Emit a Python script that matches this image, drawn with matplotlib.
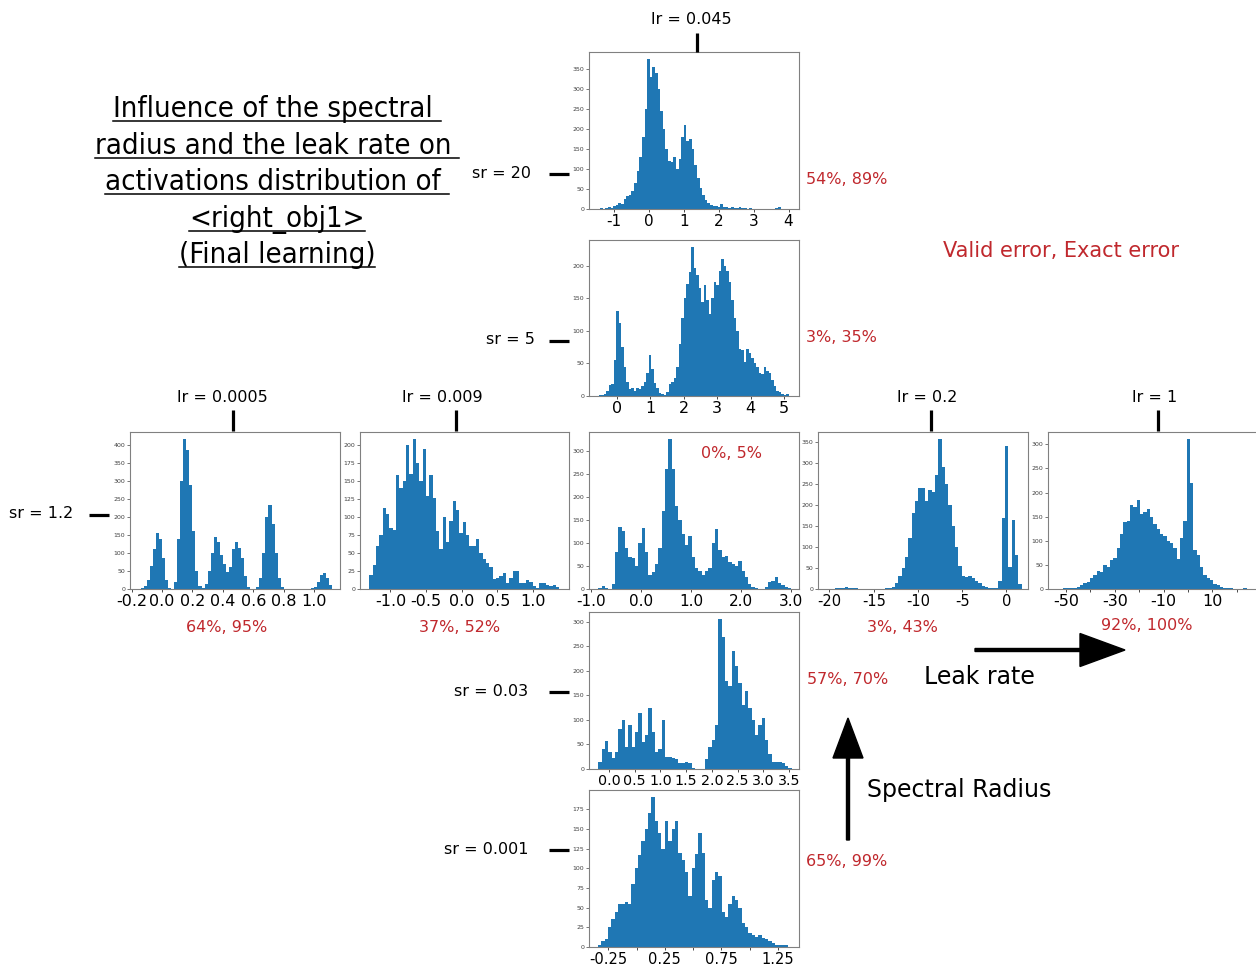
import matplotlib
matplotlib.use('Agg')
import matplotlib.pyplot as plt
import numpy as np
from matplotlib.patches import FancyArrow
from matplotlib.ticker import MultipleLocator

plt.rcParams['font.family'] = 'DejaVu Sans'
plt.rcParams['axes.unicode_minus'] = False

W, H = 1256, 966
BAR = '#1f77b4'
RED = '#c0282d'

# histogram counts: (first edge, last edge) + counts
sr20_range = (-1.4, 4.0)
sr20_counts = [3, 0, 2, 4, 2, 8, 10, 15, 12, 25, 32, 35, 45, 65, 95, 130, 180, 250,
               375, 330, 355, 340, 300, 245, 200, 150, 120, 118, 130, 100, 125, 180,
               210, 170, 175, 150, 110, 78, 52, 35, 22, 15, 10, 8, 8, 5, 12, 4, 6,
               3, 4, 3, 2, 4, 3, 2, 1, 2, 1, 1, 0, 1, 1, 0, 1, 1, 0, 2, 4, 1, 0, 1]

sr5_range = (-0.55, 5.15)
sr5_counts = [2, 1, 3, 8, 17, 18, 55, 130, 112, 75, 45, 22, 10, 12, 8, 12, 10, 15, 22, 35,
              63, 42, 20, 12, 4, 3, 2, 6, 18, 22, 28, 45, 80, 120, 150, 172, 190, 228, 196, 185,
              165, 145, 170, 148, 126, 150, 175, 170, 192, 210, 200, 192, 175, 148, 120, 100, 72, 70, 52, 72,
              66, 58, 50, 45, 35, 33, 45, 38, 36, 25, 15, 8, 6, 3, 2, 3]

lr0005_range = (-0.14, 1.12)
lr0005_counts = [2, 8, 25, 65, 110, 155, 140, 85, 25, 2, 0,
                 20, 140, 300, 415, 385, 290, 160, 50, 8, 2,
                 15, 50, 100, 145, 130, 95, 70, 48, 60, 110, 130, 115, 85, 35, 5, 0, 0,
                 5, 30, 100, 200, 232, 180, 100, 30, 5,
                 0, 0, 0, 0, 0, 0, 0, 0, 0,
                 2, 5, 20, 40, 45, 30, 10]

lr009_range = (-1.294, 1.369)
lr009_counts = [20, 33, 60, 75, 112, 104, 85, 82, 158, 140, 150, 200, 160, 208, 175, 150, 195, 130, 158, 127,
                80, 55, 100, 65, 95, 122, 110, 78, 93, 75, 60, 60, 70, 50, 42, 36, 30, 14, 15, 18,
                22, 8, 15, 25, 25, 9, 8, 12, 10, 4, 2, 8, 9, 6, 4, 5, 3]

lr045_range = (-0.853, 3.014)
lr045_counts = [3, 7, 2, 0, 10, 80, 135, 125, 90, 70, 68, 50, 100, 132, 80, 30, 38, 55, 90, 170,
                260, 325, 260, 180, 150, 120, 95, 115, 70, 45, 40, 30, 40, 45, 100, 130, 85, 70, 72, 58,
                55, 50, 60, 40, 25, 10, 4, 2, 1, 0, 5, 15, 18, 25, 12, 8, 5, 2]

lr02_range = (-20.15, 1.74)
lr02_counts = [1, 0, 2, 3, 3, 5, 3, 2, 2, 0, 0, 0, 0, 0, 0, 0, 1, 2, 3, 5,
               15, 30, 50, 75, 120, 180, 210, 240, 240, 210, 235, 230, 270, 355, 290, 250, 200, 150, 100, 55,
               30, 28, 32, 25, 20, 15, 8, 4, 2, 2, 3, 20, 168, 340, 52, 165, 80, 12]

lr1_range = (-52.46, 25.4)
lr1_counts = [1, 2, 3, 2, 3, 5, 8, 12, 14, 22, 30, 38, 35, 50, 45, 60, 65, 85, 115, 138,
              140, 175, 170, 185, 155, 160, 165, 150, 135, 125, 115, 110, 100, 95, 85, 62, 105, 140, 310, 220,
              80, 70, 45, 30, 22, 18, 10, 8, 5, 3, 2, 2, 1, 1, 1, 3, 1]

sr003_range = (-0.207, 3.546)
sr003_counts = [15, 40, 58, 35, 22, 35, 82, 100, 45, 90, 45, 75, 115, 55, 70, 125, 75, 35, 40, 100,
                25, 25, 22, 20, 12, 12, 15, 12, 3, 0, 0, 0, 20, 45, 60, 90, 305, 270, 180, 170,
                240, 210, 175, 130, 160, 125, 100, 70, 90, 105, 60, 30, 14, 14, 15, 12, 6, 2]

sr0001_range = (-0.34, 1.342)
sr0001_counts = [3, 8, 10, 25, 35, 45, 55, 55, 57, 55, 80, 100, 117, 135, 150, 170, 190, 160, 145, 125,
                 160, 135, 150, 160, 120, 110, 95, 65, 100, 118, 145, 120, 60, 50, 85, 95, 90, 45, 38, 55,
                 65, 60, 50, 30, 25, 18, 15, 13, 15, 12, 10, 8, 5, 2, 3, 3, 2]

fig = plt.figure(figsize=(W / 100, H / 100), dpi=100)


def draw_hist(box, rng, counts, xlim, xticks, xlabels, ystep, xfs):
    l, t, r, b = box
    ax = fig.add_axes([l / W, 1 - b / H, (r - l) / W, (b - t) / H])
    edges = np.linspace(rng[0], rng[1], len(counts) + 1)
    ax.hist(edges[:-1], bins=edges, weights=counts, color=BAR)
    ax.set_xlim(xlim)
    ax.set_xticks(xticks)
    ax.set_xticklabels(xlabels, fontsize=xfs)
    ax.yaxis.set_major_locator(MultipleLocator(ystep))
    ax.tick_params(axis='y', labelsize=4.5, length=2, width=0.5, pad=1.5, colors='0.25')
    ax.tick_params(axis='x', length=2, width=0.5, pad=1.5)
    for s in ax.spines.values():
        s.set_color('0.5')
        s.set_linewidth(0.8)
    return ax


def lab(vals, fmt):
    return [fmt.format(v) for v in vals]


draw_hist((589, 52, 799, 209), sr20_range, sr20_counts, (-1.716, 4.30),
          [-1, 0, 1, 2, 3, 4], lab([-1, 0, 1, 2, 3, 4], '{}'), 50, 11)
draw_hist((589, 240, 799, 396), sr5_range, sr5_counts, (-0.838, 5.45),
          [0, 1, 2, 3, 4, 5], lab([0, 1, 2, 3, 4, 5], '{}'), 50, 11.5)
t3 = [-0.2, 0.0, 0.2, 0.4, 0.6, 0.8, 1.0]
draw_hist((130, 432, 340, 589), lr0005_range, lr0005_counts, (-0.21, 1.17),
          t3, lab(t3, '{:.1f}'), 50, 11.5)
t4 = [-1.0, -0.5, 0.0, 0.5, 1.0]
draw_hist((360, 432, 569, 589), lr009_range, lr009_counts, (-1.426, 1.505),
          t4, lab(t4, '{:.1f}'), 25, 11.5)
t5 = [-1.0, 0.0, 1.0, 2.0, 3.0]
draw_hist((589, 432, 799, 589), lr045_range, lr045_counts, (-1.042, 3.166),
          t5, lab(t5, '{:.1f}'), 50, 11)
t6 = [-20, -15, -10, -5, 0]
draw_hist((818, 432, 1028, 589), lr02_range, lr02_counts, (-21.3, 2.45),
          t6, lab(t6, '{}'), 50, 10.5)
t7 = [-50, -40, -30, -20, -10, 0, 10, 20]
draw_hist((1048, 432, 1258, 589), lr1_range, lr1_counts, (-57.4, 28.7),
          t7, [str(v) if i % 2 == 0 else '' for i, v in enumerate(t7)], 50, 11.5)
t8 = [0.0, 0.5, 1.0, 1.5, 2.0, 2.5, 3.0, 3.5]
draw_hist((589, 612, 799, 769), sr003_range, sr003_counts, (-0.388, 3.69),
          t8, lab(t8, '{:.1f}'), 50, 10.3)
t9 = [-0.25, 0.0, 0.25, 0.5, 0.75, 1.0, 1.25]
draw_hist((589, 790, 799, 947), sr0001_range, sr0001_counts, (-0.42, 1.436),
          t9, ['{:.2f}'.format(v) if i % 2 == 0 else '' for i, v in enumerate(t9)], 25, 10.5)

# overlay in pixel coordinates for labels, markers and arrows
ov = fig.add_axes([0, 0, 1, 1], zorder=10)
ov.set_xlim(0, W)
ov.set_ylim(H, 0)
ov.axis('off')
ov.patch.set_visible(False)

LFS = 11.5
# leak rate labels (top of columns)
for txt, x, y, lx, y0, y1 in [('lr = 0.045', 691, 20, 697, 33, 52),
                              ('lr = 0.0005', 222, 397, 233, 410, 431),
                              ('lr = 0.009', 442, 397, 456, 410, 431),
                              ('lr = 0.2', 927, 397, 931, 410, 431),
                              ('lr = 1', 1155, 397, 1158, 410, 431)]:
    ov.text(x, y, txt, ha='center', va='center', fontsize=LFS)
    ov.plot([lx, lx], [y0, y1], color='black', lw=2.3, solid_capstyle='butt')

# spectral radius labels (left of rows)
for txt, x, y, x0, x1 in [('sr = 20', 531, 173, 549, 569),
                          ('sr = 5', 535, 340, 549, 569),
                          ('sr = 1.2', 73, 514, 89, 109),
                          ('sr = 0.03', 528, 691, 549, 569),
                          ('sr = 0.001', 529, 849, 549, 569)]:
    ov.text(x, y, txt, ha='right', va='center', fontsize=LFS)
    ov.plot([x0, x1], [y + 0.5, y + 0.5], color='black', lw=2.3, solid_capstyle='butt')

# errors (valid, exact)
for txt, x, y, ha in [('54%, 89%', 806, 179, 'left'),
                      ('3%, 35%', 806, 337, 'left'),
                      ('0%, 5%', 701, 453, 'left'),
                      ('64%, 95%', 227, 627, 'center'),
                      ('37%, 52%', 460, 627, 'center'),
                      ('3%, 43%', 902, 627, 'center'),
                      ('92%, 100%', 1147, 626, 'center'),
                      ('57%, 70%', 807, 680, 'left'),
                      ('65%, 99%', 806, 861, 'left')]:
    ov.text(x, y, txt, ha=ha, va='center', fontsize=LFS, color=RED)
ov.text(943, 251, 'Valid error, Exact error', ha='left', va='center', fontsize=15, color=RED)

# axis arrows
ov.add_patch(FancyArrow(975, 650, 150, 0, width=3, head_width=33, head_length=45,
                        length_includes_head=True, color='black'))
ov.add_patch(FancyArrow(848, 840, 0, -122, width=3, head_width=30, head_length=40,
                        length_includes_head=True, color='black'))
ov.text(924, 677, 'Leak rate', ha='left', va='center', fontsize=17)
ov.text(867, 790, 'Spectral Radius', ha='left', va='center', fontsize=17)

# underlined title
title_lines = ['Influence of the spectral ', 'radius and the leak rate on ',
               'activations distribution of ', '<right_obj1>', '(Final learning)']
baselines = [117, 154, 190, 227, 263]
title_texts = [ov.text(277, yb, s, ha='center', va='baseline', fontsize=21,
                       fontstretch='condensed')
               for s, yb in zip(title_lines, baselines)]
fig.canvas.draw()
inv = ov.transData.inverted()
for t, yb in zip(title_texts, baselines):
    bb = t.get_window_extent()
    (xa, _), (xb, _) = inv.transform([[bb.x0, bb.y0], [bb.x1, bb.y1]])
    ov.plot([xa, xb], [yb + 3.5, yb + 3.5], color='black', lw=1.1)

fig.savefig('out.png', dpi=100)
